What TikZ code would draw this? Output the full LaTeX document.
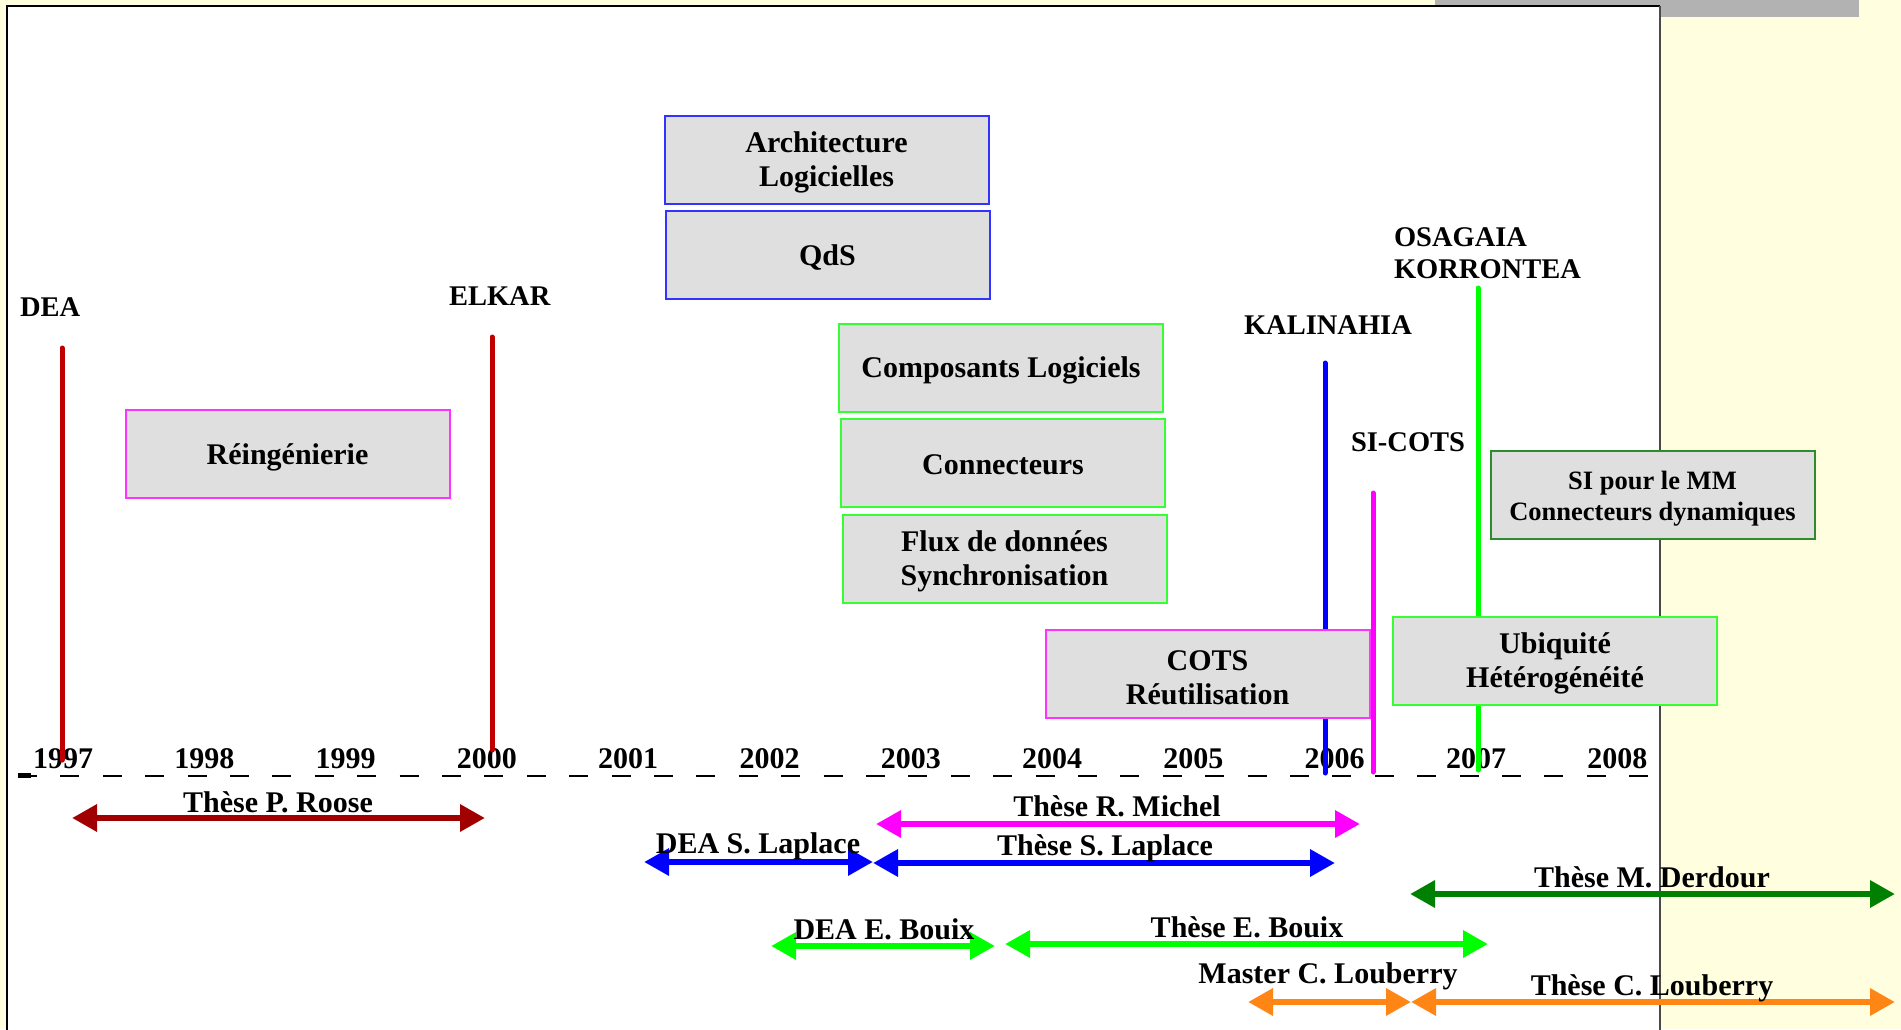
\documentclass[tikz,border=0pt]{standalone}
\usepackage{fontspec}
\setmainfont{Liberation Serif}
\usetikzlibrary{arrows.meta}

\definecolor{pagebg}{HTML}{FFFFE0}
\definecolor{tabgray}{HTML}{B2B2B2}
\definecolor{edgegray}{HTML}{4A4A4A}
\definecolor{boxfill}{HTML}{DFDFDF}
\definecolor{eraRed}{HTML}{C00000}
\definecolor{spanRed}{HTML}{A00000}
\definecolor{pureBlue}{HTML}{0000FF}
\definecolor{boxBlue}{HTML}{3333FF}
\definecolor{pureMagenta}{HTML}{FF00FF}
\definecolor{boxMagenta}{HTML}{FF33FF}
\definecolor{pureGreen}{HTML}{00FF00}
\definecolor{boxGreen}{HTML}{33FF33}
\definecolor{deepGreen}{HTML}{008000}
\definecolor{boxDeepGreen}{HTML}{2E8B2E}
\definecolor{spanOrange}{HTML}{FF8515}

% invisible strut that lowers the first line of a topic box
\newcommand{\capstrut}{\rule{0pt}{27pt}}

\begin{document}
\begin{tikzpicture}[x=1pt,y=-1pt,
  every node/.style={font=\bfseries\fontsize{30}{34}\selectfont, inner sep=0pt, outer sep=0pt},
  topic/.style={draw, line width=2pt, fill=boxfill, minimum width=324pt,
                minimum height=88pt, align=center},
  era/.style={line width=5pt, line cap=round},
  eralabel/.style={anchor=west, font=\bfseries\fontsize{28.5}{32}\selectfont},
  year/.style={anchor=base},
  spanlabel/.style={anchor=base},
  span/.style={line width=6.5pt,
               {Triangle[length=25pt,width=26pt]}-{Triangle[length=25pt,width=26pt]}},
]
\useasboundingbox (0,0) rectangle (1901,1029);

% page background, tab and white sheet
\fill[pagebg] (0,0) rectangle (1901,1029);
\fill[tabgray] (1435,0) rectangle (1859,17);
\fill[white] (7,6) rectangle (1660,1040);
\draw[line width=1.6pt] (7,1040) -- (7,6) -- (1660,6);
\draw[line width=1.8pt, edgegray] (1660,6) -- (1660,1040);

% time axis
\coordinate (axisL) at (18,776);
\coordinate (axisR) at (1650,776);
\draw[line width=2.4pt, dash pattern=on 19pt off 23.4pt] (axisL) -- (axisR);
\fill (18,773) rectangle (31,778);

\foreach \yr [count=\i from 0] in {1997,...,2008}
  \node[year] (y\yr) at (63+141.3*\i,768) {\yr};

% project markers
\coordinate (deaT) at (62,348);   \coordinate (deaB) at (62,760);
\coordinate (elkT) at (492,337);  \coordinate (elkB) at (492,750);
\coordinate (kalT) at (1325,363); \coordinate (kalB) at (1325,773);
\coordinate (sicT) at (1373,493); \coordinate (sicB) at (1373,772);
\coordinate (osaT) at (1478,288); \coordinate (osaB) at (1478,770);
\draw[era, eraRed] (deaT) -- (deaB);
\draw[era, eraRed] (elkT) -- (elkB);
\draw[era, pureBlue] (kalT) -- (kalB);
\draw[era, pureMagenta] (sicT) -- (sicB);
\draw[era, pureGreen] (osaT) -- (osaB);

\node[eralabel] (dea) at (20,307) {DEA};
\node[eralabel] (elkar) at (449,296) {ELKAR};
\node[eralabel] (kalinahia) at (1244,325) {KALINAHIA};
\node[eralabel] (sicots) at (1351,442) {SI-COTS};
\node[eralabel, align=left] (osagaia) at (1394,253) {OSAGAIA\\KORRONTEA};

% research topics
\node[topic, draw=boxBlue] (archi) at (826.5,159.5) {\capstrut Architecture\\Logicielles};
\node[topic, draw=boxBlue] (qds) at (827.5,254.5) {\capstrut QdS};
\node[topic, draw=boxMagenta] (reing) at (287.5,454) {\capstrut Réingénierie};
\node[topic, draw=boxGreen] (compo) at (1001,367.5) {\capstrut Composants Logiciels};
\node[topic, draw=boxGreen] (connect) at (1003,462.5) {\rule{0pt}{25pt}Connecteurs};
\node[topic, draw=boxGreen] (flux) at (1004.5,558.5) {\capstrut Flux de données\\Synchronisation};
\node[topic, draw=boxMagenta] (cots) at (1207.5,674) {\capstrut COTS\\Réutilisation};
\node[topic, draw=boxGreen] (ubiq) at (1555,660.5) {\capstrut Ubiquité\\Hétérogénéité};
\node[topic, draw=boxDeepGreen, font=\bfseries\fontsize{26.5}{31}\selectfont]
  (simm) at (1652.5,494.5) {\capstrut SI pour le MM\\Connecteurs dynamiques};

% theses and internships
\coordinate (rooseA) at (72,818);     \coordinate (rooseB) at (485,818);
\coordinate (michelA) at (876,824);   \coordinate (michelB) at (1360,824);
\coordinate (deaslA) at (644,862);    \coordinate (deaslB) at (873,862);
\coordinate (thslA) at (873,863);     \coordinate (thslB) at (1335,863);
\coordinate (derdA) at (1410,894);    \coordinate (derdB) at (1895,894);
\coordinate (deaebA) at (771,946);    \coordinate (deaebB) at (995,946);
\coordinate (thebA) at (1005,944);    \coordinate (thebB) at (1488,944);
\coordinate (mclA) at (1248,1002);    \coordinate (mclB) at (1411,1002);
\coordinate (thclA) at (1411,1002);   \coordinate (thclB) at (1895,1002);

\draw[span, spanRed] (rooseA) -- (rooseB);
\draw[span, pureMagenta] (michelA) -- (michelB);
\draw[span, pureBlue] (deaslA) -- (deaslB);
\draw[span, pureBlue] (thslA) -- (thslB);
\draw[span, deepGreen] (derdA) -- (derdB);
\draw[span, pureGreen] (deaebA) -- (deaebB);
\draw[span, pureGreen] (thebA) -- (thebB);
\draw[span, spanOrange] (mclA) -- (mclB);
\draw[span, spanOrange] (thclA) -- (thclB);

\node[spanlabel] (lroose) at (278,812) {Thèse P. Roose};
\node[spanlabel] (lmichel) at (1117,816) {Thèse R. Michel};
\node[spanlabel] (ldeasl) at (758,853) {DEA S. Laplace};
\node[spanlabel] (lthsl) at (1105,855) {Thèse S. Laplace};
\node[spanlabel] (lderd) at (1652,887) {Thèse M. Derdour};
\node[spanlabel] (ldeaeb) at (884,939) {DEA E. Bouix};
\node[spanlabel] (ltheb) at (1247,937) {Thèse E. Bouix};
\node[spanlabel] (lmcl) at (1328,983) {Master C. Louberry};
\node[spanlabel] (lthcl) at (1652,995) {Thèse C. Louberry};
\end{tikzpicture}
\end{document}
